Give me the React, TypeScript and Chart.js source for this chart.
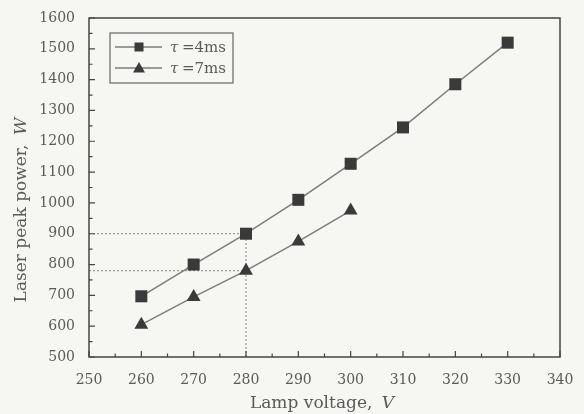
import { useEffect, useRef } from "react";
import { Chart, registerables } from "chart.js";
Chart.register(...registerables);

const voltages4 = [260, 270, 280, 290, 300, 310, 320, 330];
const power4ms = [697, 800, 900, 1010, 1127, 1245, 1385, 1520];
const voltages7 = [260, 270, 280, 290, 300];
const power7ms = [605, 695, 780, 875, 975];
const series4Label = "=4ms";
const series7Label = "=7ms";
const xTitle = "Lamp voltage, ";
const xTitleVar = "V";
const yTitle = "Laser peak power, ";
const yTitleVar = "W";
const guideVoltage = 280;
const guidePowers = [900, 780];
const xMin = 250, xMax = 340, xStep = 10;
const yMin = 500, yMax = 1600, yStep = 100;

const FONT = "'DejaVu Serif', serif";
const TEXT = "#5a5a5a";
const AXIS = "#444";
const LINE = "#7d7d7d";
const MARK = "#3a3a3a";

const decorPlugin = {
  id: "decor",
  beforeDraw(chart: any) {
    const { ctx, width, height } = chart;
    ctx.save();
    ctx.fillStyle = "#f6f6f3";
    ctx.fillRect(0, 0, width, height);
    ctx.restore();
  },
  afterDraw(chart: any) {
    const { ctx, chartArea: a, scales } = chart;
    const xs = scales.x, ys = scales.y;
    ctx.save();
    ctx.strokeStyle = AXIS;
    ctx.lineWidth = 1.5;
    ctx.strokeRect(a.left, a.top, a.right - a.left, a.bottom - a.top);
    ctx.lineWidth = 1.2;
    ctx.beginPath();
    for (let v = xMin; v <= xMax; v += xStep / 2) {
      const px = xs.getPixelForValue(v);
      const len = (v - xMin) % xStep === 0 ? 6 : 3.5;
      ctx.moveTo(px, a.bottom);
      ctx.lineTo(px, a.bottom - len);
    }
    for (let v = yMin; v <= yMax; v += yStep / 2) {
      const py = ys.getPixelForValue(v);
      const len = (v - yMin) % yStep === 0 ? 6 : 3.5;
      ctx.moveTo(a.left, py);
      ctx.lineTo(a.left + len, py);
    }
    ctx.stroke();
    ctx.fillStyle = TEXT;
    ctx.textBaseline = "middle";
    const drawMixed = (x: number, y: number, plain: string, ital: string) => {
      ctx.font = `17px ${FONT}`;
      const w1 = ctx.measureText(plain).width;
      ctx.font = `italic 17px ${FONT}`;
      const w2 = ctx.measureText(ital).width;
      const start = x - (w1 + w2) / 2;
      ctx.textAlign = "left";
      ctx.font = `17px ${FONT}`;
      ctx.fillText(plain, start, y);
      ctx.font = `italic 17px ${FONT}`;
      ctx.fillText(ital, start + w1 + 4, y);
    };
    drawMixed(320, 404, xTitle, xTitleVar);
    ctx.save();
    ctx.translate(22, 212);
    ctx.rotate(-Math.PI / 2);
    drawMixed(0, 0, yTitle, yTitleVar);
    ctx.restore();
    // legend
    const lx = 110, ly = 33, lw = 123, lh = 50;
    ctx.strokeStyle = "#666";
    ctx.lineWidth = 1.2;
    ctx.strokeRect(lx, ly, lw, lh);
    const items = [
      { ds: chart.data.datasets[0], label: series4Label, y: ly + 14 },
      { ds: chart.data.datasets[1], label: series7Label, y: ly + 35 },
    ];
    for (const it of items) {
      ctx.strokeStyle = LINE;
      ctx.lineWidth = 1.5;
      ctx.beginPath();
      ctx.moveTo(lx + 5, it.y);
      ctx.lineTo(lx + 52, it.y);
      ctx.stroke();
      ctx.fillStyle = MARK;
      if (it.ds.pointStyle === "rect") {
        ctx.fillRect(lx + 29 - 4.5, it.y - 4.5, 9, 9);
      } else {
        ctx.beginPath();
        ctx.moveTo(lx + 29, it.y - 6);
        ctx.lineTo(lx + 35, it.y + 4.5);
        ctx.lineTo(lx + 23, it.y + 4.5);
        ctx.closePath();
        ctx.fill();
      }
      ctx.fillStyle = TEXT;
      ctx.textAlign = "left";
      ctx.font = `italic 15px ${FONT}`;
      ctx.fillText("τ", lx + 60, it.y + 1);
      ctx.font = `15px ${FONT}`;
      ctx.fillText(it.label, lx + 72, it.y + 1);
    }
    ctx.restore();
  },
};

export default function App() {
  const ref = useRef<HTMLCanvasElement>(null);
  useEffect(() => {
    document.body.style.margin = "0";
    const guideStyle = {
      borderColor: "#8a7f80",
      borderWidth: 1,
      borderDash: [2, 2],
      pointRadius: 0,
      fill: false,
    };
    const chart = new Chart(ref.current!, {
      type: "line",
      data: {
        datasets: [
          {
            label: "τ =4ms",
            data: voltages4.map((x, i) => ({ x, y: power4ms[i] })),
            borderColor: LINE,
            borderWidth: 1.5,
            pointStyle: "rect",
            pointRadius: 8.5,
            pointBackgroundColor: MARK,
            pointBorderColor: MARK,
            pointBorderWidth: 0,
          },
          {
            label: "τ =7ms",
            data: voltages7.map((x, i) => ({ x, y: power7ms[i] })),
            borderColor: LINE,
            borderWidth: 1.5,
            pointStyle: "triangle",
            pointRadius: 8,
            pointBackgroundColor: MARK,
            pointBorderColor: MARK,
            pointBorderWidth: 0,
          },
          ...guidePowers.map((p) => ({
            label: "guide",
            data: [
              { x: xMin, y: p },
              { x: guideVoltage, y: p },
            ],
            ...guideStyle,
          })),
          {
            label: "guide",
            data: [
              { x: guideVoltage, y: yMin },
              { x: guideVoltage, y: Math.max(...guidePowers) },
            ],
            ...guideStyle,
          },
        ],
      },
      options: {
        animation: false,
        responsive: false,
        layout: { padding: { top: 18, right: 24, left: 0, bottom: 0 } },
        plugins: { legend: { display: false }, tooltip: { enabled: false } },
        scales: {
          x: {
            type: "linear",
            min: xMin,
            max: xMax,
            ticks: {
              stepSize: xStep,
              color: TEXT,
              font: { family: FONT, size: 14 },
              padding: 7,
              callback: (v: any) => String(v),
            },
            grid: { display: false },
            border: { display: false },
            afterFit: (s: any) => { s.height = 57; },
          },
          y: {
            min: yMin,
            max: yMax,
            ticks: {
              stepSize: yStep,
              color: TEXT,
              font: { family: FONT, size: 14 },
              padding: 6,
              callback: (v: any) => String(v),
            },
            grid: { display: false },
            border: { display: false },
            afterFit: (s: any) => { s.width = 89; },
          },
        },
      },
      plugins: [decorPlugin],
    } as any);
    return () => chart.destroy();
  }, []);
  return (
    <div style={{ width: 584, height: 414 }}>
      <canvas ref={ref} width={584} height={414} />
    </div>
  );
}
